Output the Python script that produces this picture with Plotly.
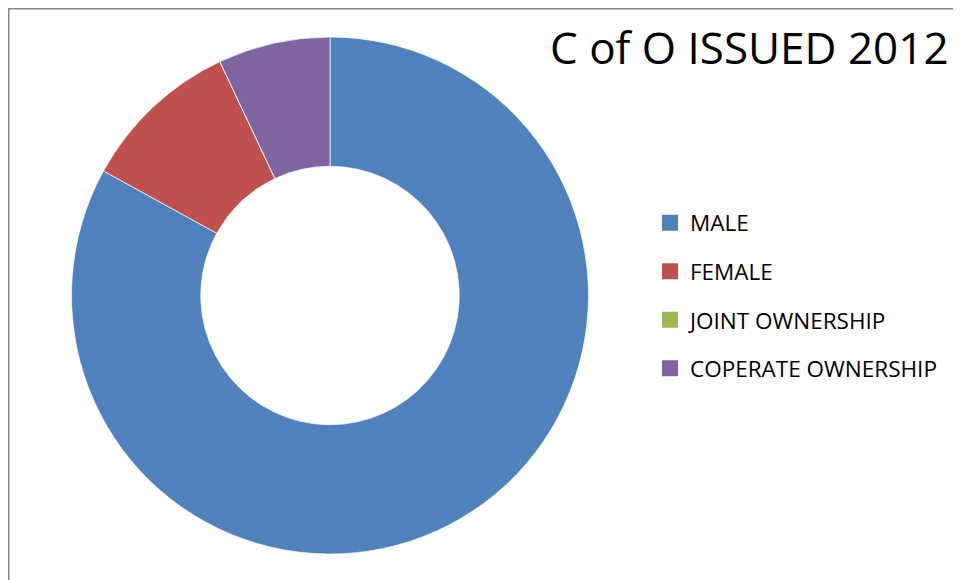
import plotly.graph_objects as go

# C of O issued 2012, share by owner type
labels = ["MALE", "FEMALE", "JOINT OWNERSHIP", "COPERATE OWNERSHIP"]
values = [83, 10, 0, 7]
colors = ["#4F81BD", "#C0504D", "#9BBB59", "#8064A2"]

title_text = "C of O ISSUED 2012"

W, H = 961, 580
FONT = "Open Sans"

fig = go.Figure()

fig.add_trace(go.Pie(
    labels=labels,
    values=values,
    hole=0.5,
    sort=False,
    direction="clockwise",
    rotation=0,
    textinfo="none",
    hoverinfo="label+value+percent",
    showlegend=False,
    marker=dict(colors=colors, line=dict(color="white", width=0.7)),
    domain=dict(x=[63.5 / W, 580.5 / W], y=[1 - 546 / H, 1 - 29 / H]),
))

# legend entries, one group each so the rows can be spaced out
for lab, col in zip(labels, colors):
    fig.add_trace(go.Scatter(
        x=[None], y=[None],
        mode="markers",
        name=lab,
        legendgroup=lab,
        marker=dict(symbol="square", size=16, color=col),
        hoverinfo="skip",
    ))

fig.add_annotation(
    text=title_text,
    xref="paper", yref="paper",
    x=741 / W, y=1 - 38.5 / H,
    xanchor="center", yanchor="middle",
    showarrow=False,
    font=dict(family=FONT, size=44, color="black"),
)

# chart frame
fig.add_shape(
    type="rect", xref="paper", yref="paper",
    x0=0.75 / W, x1=1.02, y0=-0.02, y1=1 - 0.75 / H,
    line=dict(color="#868686", width=1.5),
    fillcolor="rgba(0,0,0,0)",
)

fig.update_layout(
    width=W, height=H,
    margin=dict(l=0, r=0, t=0, b=0),
    paper_bgcolor="white",
    plot_bgcolor="white",
    xaxis=dict(visible=False),
    yaxis=dict(visible=False),
    font=dict(family=FONT, color="black"),
    legend=dict(
        x=642 / W, y=1 - 193.5 / H,
        xanchor="left", yanchor="top",
        font=dict(family=FONT, size=22.5, color="black"),
        tracegroupgap=16.3,
        itemclick=False, itemdoubleclick=False,
        bgcolor="rgba(0,0,0,0)",
    ),
)

fig.write_html("out.html")
